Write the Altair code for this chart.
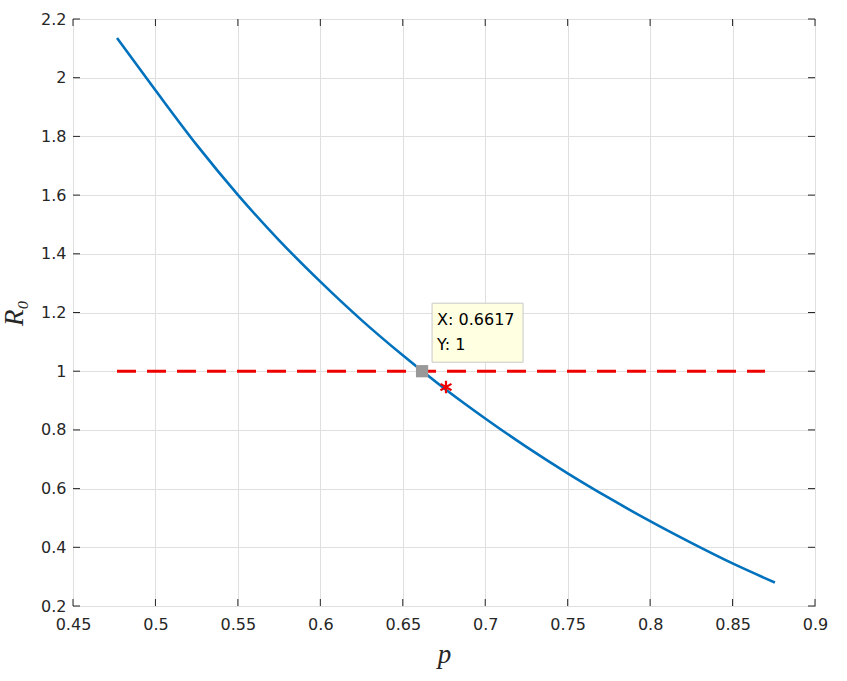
import altair as alt
import pandas as pd

# Curve R0(p)
p_vals = [0.4767, 0.500, 0.525, 0.550, 0.575, 0.600, 0.625, 0.650, 0.675,
          0.700, 0.725, 0.750, 0.775, 0.800, 0.825, 0.850, 0.8757]
r0_vals = [2.135, 1.957, 1.771, 1.601, 1.446, 1.305, 1.174, 1.054, 0.942,
           0.839, 0.742, 0.652, 0.568, 0.489, 0.415, 0.345, 0.280]

# Threshold line R0 = 1
thr_p = [0.4767, 0.8697]
thr_r0 = [1.0, 1.0]

# Datatip and star marker
tip_p = [0.6617]
tip_r0 = [1.0]
tip_lines = ["X: 0.6617", "Y: 1"]
star_p = [0.6762]
star_r0 = [0.946]

x_ticks = [0.45, 0.5, 0.55, 0.6, 0.65, 0.7, 0.75, 0.8, 0.85, 0.9]
y_ticks = [0.2, 0.4, 0.6, 0.8, 1.0, 1.2, 1.4, 1.6, 1.8, 2.0, 2.2]

W, H = 742, 587
FONT = "DejaVu Sans"
TXT = "#262626"

curve = pd.DataFrame({"p": p_vals, "R0": r0_vals})
thr = pd.DataFrame({"p": thr_p, "R0": thr_r0})
tip = pd.DataFrame({"p": tip_p, "R0": tip_r0})
star = pd.DataFrame({"p": star_p, "R0": star_r0})
xt = pd.DataFrame({"v": x_ticks})
yt = pd.DataFrame({"v": y_ticks})

xs = alt.Scale(domain=[0.45, 0.9], nice=False, zero=False)
ys = alt.Scale(domain=[0.2, 2.2], nice=False, zero=False)

common = dict(format="~g", grid=True, gridColor="#dfdfdf", domain=False,
              ticks=False, labelFlush=False, labelOverlap=False,
              labelFont=FONT, labelFontSize=16, labelColor=TXT,
              titleFont="Liberation Serif", titleFontStyle="italic",
              titleFontWeight="normal", titleFontSize=27, titleColor=TXT)
xaxis = alt.Axis(values=x_ticks, title="p", labelPadding=10, titlePadding=9, **common)
yaxis = alt.Axis(values=y_ticks, title="R₀", labelPadding=7, titlePadding=12, **common)

base_line = alt.Chart(curve).mark_line(color="#0072BD", strokeWidth=2.6,
                                       interpolate="monotone").encode(
    x=alt.X("p:Q", scale=xs, axis=xaxis),
    y=alt.Y("R0:Q", scale=ys, axis=yaxis),
)

thr_line = alt.Chart(thr).mark_line(color="#ee0000", strokeWidth=3,
                                    strokeDash=[19, 11]).encode(
    x=alt.X("p:Q", scale=xs), y=alt.Y("R0:Q", scale=ys))

star_path = "M0,-1L0,1M-0.87,-0.5L0.87,0.5M-0.87,0.5L0.87,-0.5"
star_mark = alt.Chart(star).mark_point(shape=star_path, filled=False,
                                       color="#ee0000", strokeWidth=2.2,
                                       size=160, opacity=1).encode(
    x=alt.X("p:Q", scale=xs), y=alt.Y("R0:Q", scale=ys))

square = alt.Chart(tip).mark_point(shape="square", filled=True, color="#999999",
                                   size=150, opacity=1).encode(
    x=alt.X("p:Q", scale=xs), y=alt.Y("R0:Q", scale=ys))

box = alt.Chart(tip).mark_rect(width=91, height=59, xOffset=55.5, yOffset=-38.5,
                               fill="#ffffe1", stroke="#c8c8c8",
                               strokeWidth=1).encode(
    x=alt.X("p:Q", scale=xs), y=alt.Y("R0:Q", scale=ys))

tip_text1 = alt.Chart(tip).mark_text(text=tip_lines[0], align="left",
                                     baseline="alphabetic", dx=15, dy=-46,
                                     font=FONT, fontSize=16, color="#000000").encode(
    x=alt.X("p:Q", scale=xs), y=alt.Y("R0:Q", scale=ys))
tip_text2 = alt.Chart(tip).mark_text(text=tip_lines[1], align="left",
                                     baseline="alphabetic", dx=15, dy=-21,
                                     font=FONT, fontSize=16, color="#000000").encode(
    x=alt.X("p:Q", scale=xs), y=alt.Y("R0:Q", scale=ys))

TL = 7
tick_style = dict(color=TXT, strokeWidth=1)
bt = alt.Chart(xt).mark_rule(**tick_style).encode(
    x=alt.X("v:Q", scale=xs), y=alt.value(H), y2=alt.value(H - TL))
tt = alt.Chart(xt).mark_rule(**tick_style).encode(
    x=alt.X("v:Q", scale=xs), y=alt.value(0), y2=alt.value(TL))
lt = alt.Chart(yt).mark_rule(**tick_style).encode(
    y=alt.Y("v:Q", scale=ys), x=alt.value(0), x2=alt.value(TL))
rt = alt.Chart(yt).mark_rule(**tick_style).encode(
    y=alt.Y("v:Q", scale=ys), x=alt.value(W), x2=alt.value(W - TL))

chart = alt.layer(
    base_line, thr_line, square, star_mark, box, tip_text1, tip_text2,
    bt, tt, lt, rt,
).properties(
    width=W, height=H,
    autosize=alt.AutoSizeParams(type="none"),
    padding={"left": 73, "top": 19, "right": 32, "bottom": 75},
    background="white",
).configure_view(stroke=TXT, strokeWidth=1)

chart.save("out.html", embed_options={"renderer": "svg", "actions": False})
